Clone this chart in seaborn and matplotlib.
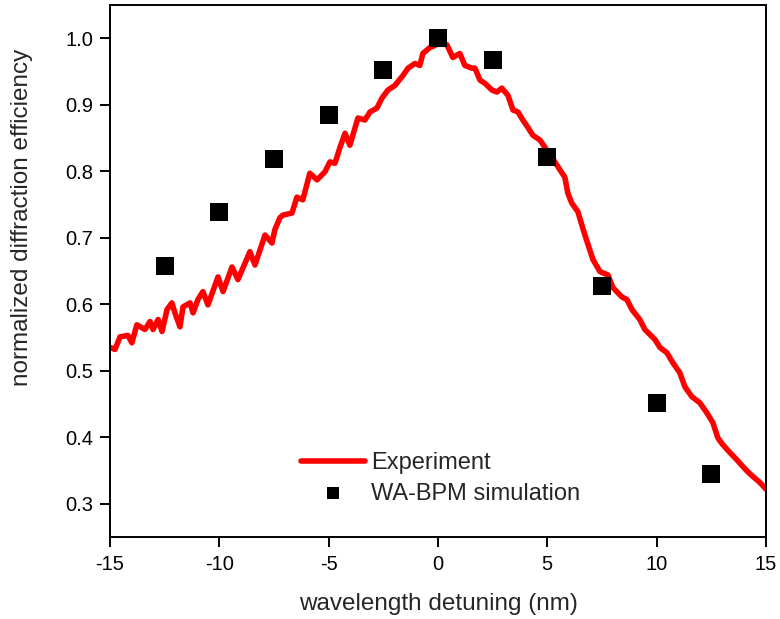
import seaborn as sns
import pandas as pd
import matplotlib
matplotlib.use('Agg')
import matplotlib.pyplot as plt

# Experiment: diffraction efficiency vs detuning
exp_x = [-15.0, -14.77, -14.54, -14.18, -14.0, -13.77, -13.4, -13.17, -13.03, -12.8,
         -12.62, -12.39, -12.17, -12.03, -11.8, -11.66, -11.34, -11.2, -10.98, -10.75,
         -10.52, -10.06, -9.83, -9.42, -9.15, -8.6, -8.37, -7.91, -7.59, -7.46,
         -7.23, -7.09, -6.68, -6.45, -6.18, -5.86, -5.53, -5.17, -4.94, -4.71,
         -4.48, -4.25, -4.03, -3.66, -3.34, -3.11, -2.79, -2.56, -2.29, -1.97,
         -1.6, -1.37, -1.05, -0.83, -0.69, -0.37, -0.14, 0.0, 0.41, 0.68,
         1.0, 1.23, 1.55, 1.69, 1.92, 2.15, 2.47, 2.7, 2.92, 3.2,
         3.43, 3.66, 3.88, 4.11, 4.34, 4.66, 4.89, 5.21, 5.58, 5.8,
         5.94, 6.12, 6.4, 6.58, 6.72, 7.09, 7.41, 7.77, 8.0, 8.41,
         8.64, 8.87, 9.23, 9.46, 9.92, 10.15, 10.47, 10.74, 11.06, 11.29,
         11.61, 11.97, 12.29, 12.57, 12.8, 13.02, 13.35, 13.67, 13.94, 14.17,
         14.4, 14.72, 15.0]
exp_y = [0.535, 0.532, 0.551, 0.553, 0.542, 0.569, 0.562, 0.574, 0.562, 0.577,
         0.559, 0.592, 0.602, 0.587, 0.566, 0.596, 0.602, 0.587, 0.607, 0.619,
         0.599, 0.641, 0.619, 0.656, 0.637, 0.679, 0.659, 0.704, 0.692, 0.712,
         0.730, 0.734, 0.737, 0.761, 0.757, 0.797, 0.787, 0.799, 0.814, 0.812,
         0.836, 0.857, 0.839, 0.880, 0.877, 0.889, 0.895, 0.910, 0.922, 0.929,
         0.944, 0.955, 0.962, 0.959, 0.977, 0.986, 0.989, 0.997, 0.990, 0.971,
         0.977, 0.959, 0.955, 0.955, 0.937, 0.932, 0.922, 0.919, 0.925, 0.914,
         0.892, 0.889, 0.877, 0.866, 0.854, 0.847, 0.836, 0.821, 0.802, 0.791,
         0.767, 0.752, 0.739, 0.719, 0.704, 0.667, 0.649, 0.644, 0.625, 0.611,
         0.607, 0.592, 0.577, 0.562, 0.547, 0.535, 0.527, 0.512, 0.497, 0.476,
         0.461, 0.452, 0.437, 0.422, 0.399, 0.389, 0.377, 0.366, 0.356, 0.348,
         0.341, 0.332, 0.322]

# WA-BPM simulation points
sim_x = [-12.5, -10, -7.5, -5, -2.5, 0, 2.5, 5, 7.5, 10, 12.5]
sim_y = [0.657, 0.738, 0.818, 0.884, 0.952, 1.0, 0.967, 0.822, 0.627, 0.452, 0.344]

x_ticks = [-15, -10, -5, 0, 5, 10, 15]
y_ticks = [0.3, 0.4, 0.5, 0.6, 0.7, 0.8, 0.9, 1.0]

exp_df = pd.DataFrame({'detuning': exp_x, 'efficiency': exp_y})
sim_df = pd.DataFrame({'detuning': sim_x, 'efficiency': sim_y})

sns.set_style('ticks')
plt.rcParams['font.family'] = ['Liberation Sans', 'DejaVu Sans']
plt.rcParams['axes.linewidth'] = 1.4

fig = plt.figure(figsize=(7.8, 6.19), dpi=100)
ax = fig.add_axes([0.141, 0.1325, 0.841, 0.8595])

sns.lineplot(data=exp_df, x='detuning', y='efficiency', ax=ax, color='#ff0000',
             linewidth=4, sort=False, estimator=None, label='Experiment', zorder=2)
sns.scatterplot(data=sim_df, x='detuning', y='efficiency', ax=ax, color='black',
                marker='s', s=175, linewidth=0, label='WA-BPM simulation', zorder=3)

ax.set_xlim(-15, 15)
ax.set_ylim(0.25, 1.05)
ax.set_xticks(x_ticks)
ax.set_xticklabels([str(t) for t in x_ticks])
ax.set_yticks(y_ticks)
ax.set_yticklabels([f'{t:.1f}' for t in y_ticks])
ax.tick_params(direction='out', length=7, width=1.4, labelsize=14.5, colors='black')
ax.tick_params(axis='y', pad=5)
ax.tick_params(axis='x', pad=6)
for sp in ax.spines.values():
    sp.set_visible(True)
    sp.set_color('black')

ax.set_xlabel('wavelength detuning (nm)', fontsize=17.5, labelpad=14)
ax.set_ylabel('normalized diffraction efficiency', fontsize=17.5)
ax.yaxis.set_label_coords(-0.117, 0.60)

leg = ax.legend(loc='lower left', bbox_to_anchor=(0.259, 0.021), frameon=False,
                fontsize=17, handlelength=2.7, handletextpad=0.25,
                labelspacing=0.37, markerscale=0.67)

fig.savefig('out.png', dpi=100)
